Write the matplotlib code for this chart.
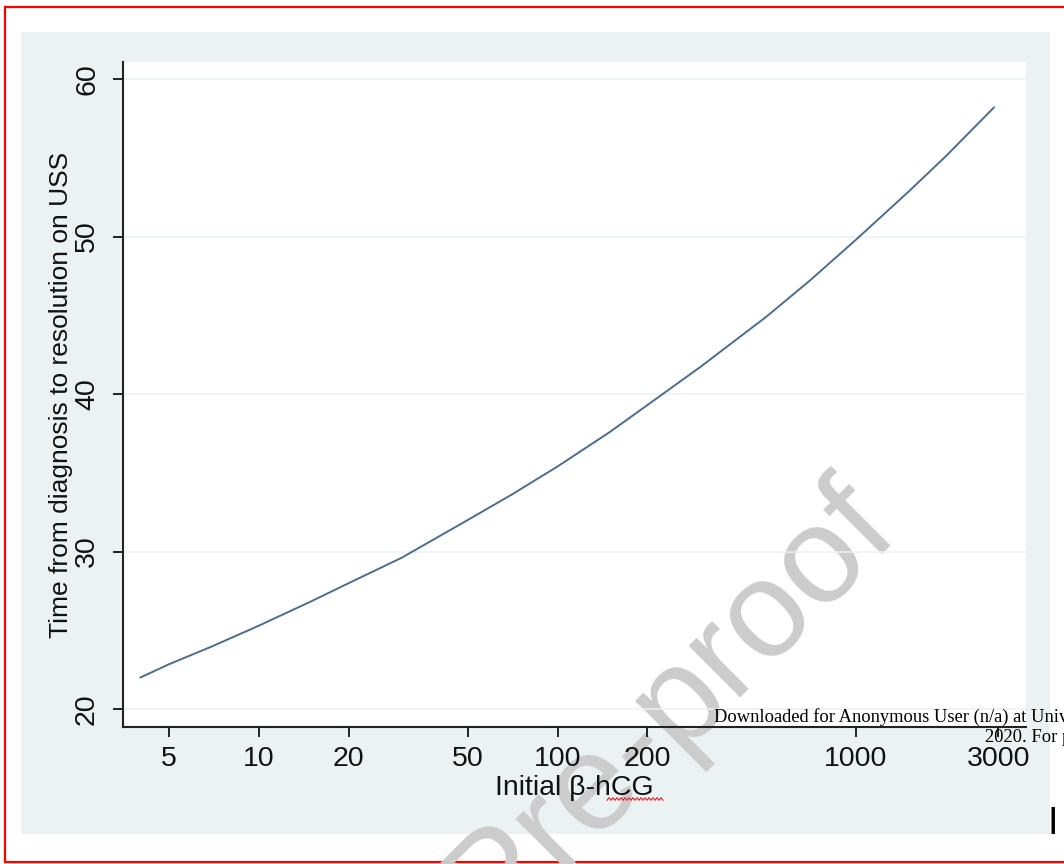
import numpy as np
import matplotlib.pyplot as plt
from matplotlib.patches import Rectangle
from matplotlib.lines import Line2D
from matplotlib.ticker import NullLocator

# -------------------------------------------------------------------
# Datos
# -------------------------------------------------------------------
beta_hcg = [4, 5, 7, 10, 15, 20, 30, 50, 70, 100, 150, 200, 300, 500,
            700, 1000, 1500, 2000, 2900]
time_to_res = [22.0, 22.85, 24.0, 25.3, 26.85, 28.0, 29.6, 32.0, 33.6, 35.4,
               37.6, 39.3, 41.7, 44.9, 47.2, 49.8, 52.85, 55.1, 58.2]
x_ticks = [5, 10, 20, 50, 100, 200, 1000, 3000]
y_ticks = [20, 30, 40, 50, 60]

plt.rcParams['font.family'] = ['Liberation Sans', 'DejaVu Sans']

W, H = 1064, 864
fig = plt.figure(figsize=(W / 100, H / 100), dpi=100)
fig.patch.set_facecolor('white')


def fr(x, y):
    # pixel -> figure fraction
    return x / W, 1 - y / H


# -------------------------------------------------------------------
# Fondos: borde rojo, región gris-azulada, zona de gráfico blanca
# -------------------------------------------------------------------
x0, y0 = fr(5, 862)
fig.add_artist(Rectangle((x0, y0), 1.2, (862 - 7) / H, transform=fig.transFigure,
                         facecolor='white', edgecolor='#ff0000', lw=1.6, zorder=-3))
x0, y0 = fr(21, 834)
fig.add_artist(Rectangle((x0, y0), (1050 - 21) / W, (834 - 32) / H,
                         transform=fig.transFigure, facecolor='#eaf2f3',
                         edgecolor='none', zorder=-2))
ax_l, ax_b = fr(123, 727)
ax_w, ax_h = (1026 - 123) / W, (727 - 62) / H
fig.add_artist(Rectangle((ax_l, ax_b), ax_w, ax_h, transform=fig.transFigure,
                         facecolor='white', edgecolor='none', zorder=-1))

# — Marca de agua
wx, wy = fr(902, 536)
fig.text(wx, wy, 'Journal Pre-proof', rotation=45, rotation_mode='anchor',
         ha='right', va='baseline', fontsize=99, color='#cccccc', zorder=0)

# -------------------------------------------------------------------
# Ejes
# -------------------------------------------------------------------
ax = fig.add_axes([ax_l, ax_b, ax_w, ax_h])
ax.set_zorder(1)
ax.set_facecolor('none')

ax.plot(beta_hcg, time_to_res, color='#4a6d91', lw=1.4, solid_capstyle='round')

ax.set_xscale('log')
ax.set_xlim(3.5, 3711)
ax.set_ylim(18.86, 61.08)
ax.set_xticks(x_ticks)
ax.set_xticklabels([str(t) for t in x_ticks])
ax.xaxis.set_minor_locator(NullLocator())
ax.set_yticks(y_ticks)
ax.set_yticklabels([str(t) for t in y_ticks], rotation=90, va='center')

for yv in y_ticks:
    ax.axhline(yv, color='#eaf2f3', lw=1.1, zorder=0)

for s in ('top', 'right'):
    ax.spines[s].set_visible(False)
for s in ('left', 'bottom'):
    ax.spines[s].set_color('#222222')
    ax.spines[s].set_linewidth(1.5)

ax.tick_params(axis='both', direction='out', length=7.5, width=1.4,
               color='#222222', labelsize=20.5, labelcolor='#111111')
ax.tick_params(axis='x', pad=6.5)
ax.tick_params(axis='y', pad=9)

ax.set_xlabel('Initial β-hCG', fontsize=20.5, color='#111111', labelpad=2)
ax.set_ylabel('Time from diagnosis to resolution on USS', fontsize=19,
              color='#111111', labelpad=0.5)

# — Subrayado ondulado rojo bajo "hCG"
zx = np.arange(607, 664, 2.0)
zy = 799 + 1.3 * (-1) ** np.arange(len(zx))
fig.add_artist(Line2D(zx / W, 1 - zy / H, transform=fig.transFigure,
                      color='#e02020', lw=0.8, zorder=3))

# -------------------------------------------------------------------
# Textos superpuestos de la página
# -------------------------------------------------------------------
tx, ty = fr(714, 722)
fig.text(tx, ty, 'Downloaded for Anonymous User (n/a) at University',
         family=['Liberation Serif'], fontsize=13.3, color='black',
         va='baseline', ha='left', zorder=4)
tx, ty = fr(985, 742)
fig.text(tx, ty, '2020. For personal use only.',
         family=['Liberation Serif'], fontsize=13.3, color='black',
         va='baseline', ha='left', zorder=4)
tx, ty = fr(1053, 834)
fig.text(tx, ty, 'I', fontsize=27, color='black', ha='center',
         va='baseline', zorder=4)

fig.savefig('out.png', dpi=100)
